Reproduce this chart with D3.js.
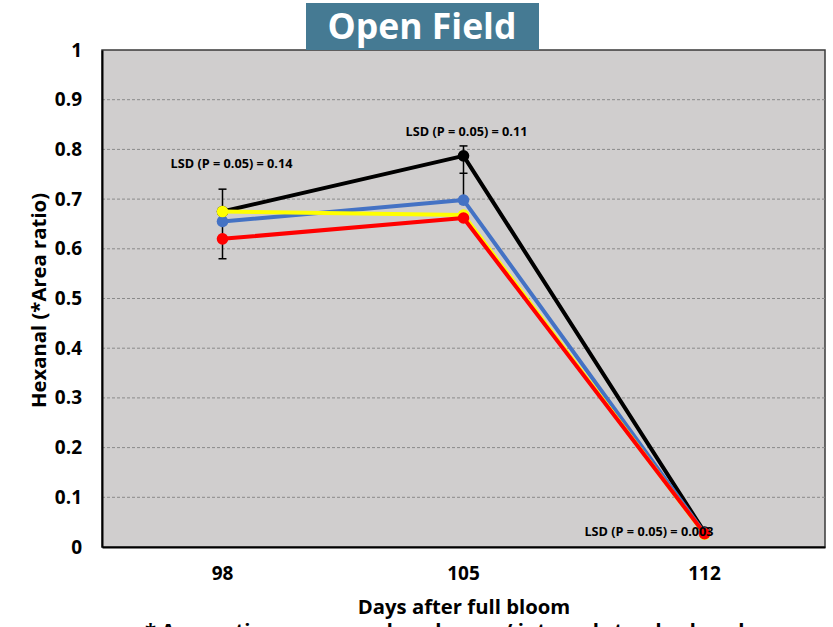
<!DOCTYPE html>
<html>
<head>
<meta charset="utf-8">
<script src="https://cdn.jsdelivr.net/npm/d3@7"></script>
<style>
  html, body { margin: 0; padding: 0; background: #fff; }
  svg { display: block; }
  text { font-family: "Open Sans", Lato, sans-serif; font-weight: bold; }
</style>
</head>
<body>
<svg id="chart" width="833" height="627"></svg>
<script>
// Days after full bloom
const days = ["98", "105", "112"];

// Hexanal area ratio per treatment (drawing order: black, blue, yellow, red)
const blackValues  = [0.675, 0.787, 0.030];
const blueValues   = [0.655, 0.698, 0.028];
const yellowValues = [0.675, 0.668, 0.026];
const redValues    = [0.620, 0.662, 0.027];

// LSD bars: centre and full LSD width per sampling day
const lsdCenters = [0.650, 0.752, 0.030];
const lsdValues  = [0.14, 0.11, 0.003];
const lsdLabels  = ["LSD (P = 0.05) = 0.14", "LSD (P = 0.05) = 0.11", "LSD (P = 0.05) = 0.003"];

const yTicks = [0, 0.1, 0.2, 0.3, 0.4, 0.5, 0.6, 0.7, 0.8, 0.9, 1];

const series = [
  { name: "black",  color: "#000000", values: blackValues },
  { name: "blue",   color: "#4472C4", values: blueValues },
  { name: "yellow", color: "#FFFF00", values: yellowValues },
  { name: "red",    color: "#FF0000", values: redValues }
];

const svg = d3.select("#chart");
const plot = { left: 102, top: 50, right: 825, bottom: 547 };
const font = "'Open Sans', Lato, sans-serif";

const x = d3.scaleBand().domain(days).range([plot.left, plot.right]).padding(0);
const xc = d => x(d) + x.bandwidth() / 2;
const y = d3.scaleLinear().domain([0, 1]).range([plot.bottom, plot.top]);

// Plot background
svg.append("rect")
  .attr("x", plot.left).attr("y", plot.top)
  .attr("width", plot.right - plot.left).attr("height", plot.bottom - plot.top)
  .attr("fill", "#D0CECE").attr("stroke", "#3a3a3a").attr("stroke-width", 1.5);

// Dashed gridlines
svg.append("g").selectAll("line")
  .data(yTicks.filter(t => t > 0 && t < 1))
  .join("line")
  .attr("x1", plot.left).attr("x2", plot.right)
  .attr("y1", d => y(d)).attr("y2", d => y(d))
  .attr("stroke", "#8a8a8a").attr("stroke-width", 1)
  .attr("stroke-dasharray", "3,2");

// Axes
const yAxis = svg.append("g")
  .attr("transform", `translate(${plot.left},0)`)
  .call(d3.axisLeft(y).tickValues(yTicks).tickSize(0).tickPadding(20)
    .tickFormat(d => d3.format("")(+d.toFixed(1))));
yAxis.select(".domain").attr("stroke", "#000").attr("stroke-width", 2);
yAxis.selectAll("text").attr("font-size", 19).attr("fill", "#000")
  .attr("font-family", font).attr("font-weight", "bold");

const xAxis = svg.append("g")
  .attr("transform", `translate(0,${plot.bottom})`)
  .call(d3.axisBottom(x).tickSize(0).tickPadding(20));
xAxis.select(".domain").attr("stroke", "#000").attr("stroke-width", 2);
xAxis.selectAll("text").attr("font-size", 19).attr("fill", "#000")
  .attr("font-family", font).attr("font-weight", "bold");

// LSD bars
const lsdG = svg.append("g");
days.forEach((d, i) => {
  const cx = xc(d);
  const lo = lsdCenters[i] - lsdValues[i] / 2;
  const hi = lsdCenters[i] + lsdValues[i] / 2;
  lsdG.append("line").attr("x1", cx).attr("x2", cx)
    .attr("y1", y(lo)).attr("y2", y(hi)).attr("stroke", "#000").attr("stroke-width", 1.5);
  [lo, hi, lsdCenters[i]].forEach(v => {
    lsdG.append("line").attr("x1", cx - 4).attr("x2", cx + 4)
      .attr("y1", y(v)).attr("y2", y(v)).attr("stroke", "#000").attr("stroke-width", 1.5);
  });
});

// Lines and markers
const line = d3.line().x((v, i) => xc(days[i])).y(v => y(v));
series.forEach(s => {
  const g = svg.append("g");
  g.append("path").datum(s.values)
    .attr("d", line).attr("fill", "none")
    .attr("stroke", s.color).attr("stroke-width", 4)
    .attr("stroke-linejoin", "round");
  g.selectAll("circle").data(s.values).join("circle")
    .attr("cx", (v, i) => xc(days[i])).attr("cy", v => y(v))
    .attr("r", 5.8).attr("fill", s.color);
});

// LSD labels
const lsdLabelPos = [
  { x: 231.5, y: 168 },
  { x: 466.5, y: 136 },
  { x: 649, y: 536 }
];
svg.append("g").selectAll("text").data(lsdLabels).join("text")
  .attr("x", (d, i) => lsdLabelPos[i].x).attr("y", (d, i) => lsdLabelPos[i].y)
  .attr("text-anchor", "middle").attr("font-size", 12.7).attr("fill", "#000")
  .text(d => d);

// Title box
svg.append("rect").attr("x", 306).attr("y", 3).attr("width", 233).attr("height", 47)
  .attr("fill", "#457A93");
svg.append("text").attr("x", 422).attr("y", 39).attr("text-anchor", "middle")
  .attr("font-size", 35.5).attr("fill", "#fff").text("Open Field");

// Axis titles
svg.append("text")
  .attr("transform", `translate(46,${(plot.top + plot.bottom) / 2 + 2}) rotate(-90)`)
  .attr("text-anchor", "middle").attr("font-size", 20.3).attr("fill", "#000")
  .text("Hexanal (*Area ratio)");
svg.append("text").attr("x", 464).attr("y", 614).attr("text-anchor", "middle")
  .attr("font-size", 20.3).attr("fill", "#000").text("Days after full bloom");

// Footnote (runs past the bottom edge of the canvas)
svg.append("text").attr("x", 145).attr("y", 638).attr("text-anchor", "start")
  .attr("font-size", 20.3).attr("fill", "#000")
  .text("* Area ratio = compound peak area / internal standard peak area");
</script>
</body>
</html>
